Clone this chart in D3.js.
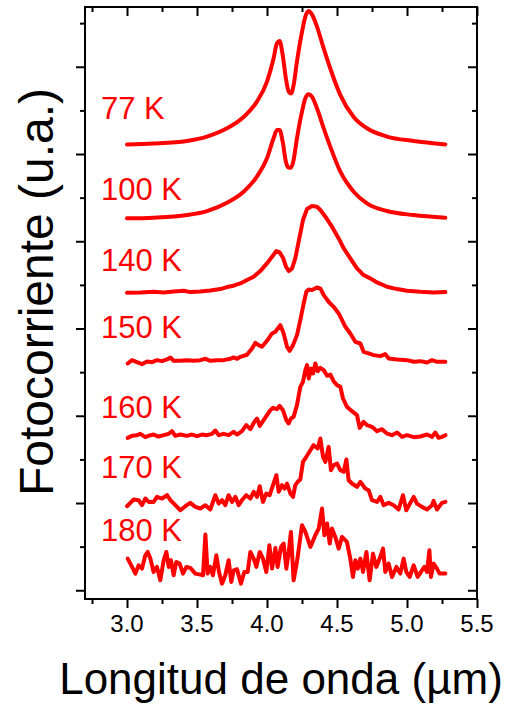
<!DOCTYPE html>
<html>
<head>
<meta charset="utf-8">
<script src="https://cdnjs.cloudflare.com/ajax/libs/d3/7.8.5/d3.min.js"></script>
<style>
  body { margin: 0; background: #fff; }
  svg { display: block; }
</style>
</head>
<body>
<div id="chart"></div>
<script>
// temperatures and vertical offset of each spectrum (in axis units)
const temps = ["77 K", "100 K", "140 K", "150 K", "160 K", "170 K", "180 K"];
const offsets = [10.22, 8.525, 6.82, 5.237, 3.532, 1.95, 0.42];

// 77 K and 100 K are read at the same wavelengths
const wlLow = [3.000, 3.190, 3.428, 3.571, 3.714, 3.833, 3.928, 4.000, 4.047, 4.071, 4.090, 4.112, 4.135, 4.155, 4.171, 4.190, 4.214, 4.250, 4.274, 4.297, 4.321, 4.357, 4.405, 4.452, 4.524, 4.619, 4.714, 4.857, 5.047, 5.274];
const pc77 = [0, 0.02, 0.08, 0.18, 0.37, 0.63, 0.98, 1.44, 1.97, 2.32, 2.37, 2.05, 1.51, 1.21, 1.17, 1.36, 1.90, 2.58, 2.93, 3.06, 2.98, 2.70, 2.20, 1.74, 1.13, 0.63, 0.37, 0.18, 0.08, 0];
const pc100 = [0, 0.015, 0.076, 0.168, 0.359, 0.612, 0.956, 1.376, 1.835, 2.026, 2.026, 1.758, 1.300, 1.162, 1.162, 1.338, 1.835, 2.446, 2.752, 2.844, 2.790, 2.523, 2.064, 1.644, 1.070, 0.612, 0.344, 0.168, 0.076, 0.015];

const wl140 = [3.000, 3.095, 3.190, 3.262, 3.333, 3.405, 3.452, 3.524, 3.595, 3.667, 3.714, 3.762, 3.786, 3.810, 3.857, 3.905, 3.952, 4.000, 4.036, 4.067, 4.090, 4.114, 4.136, 4.155, 4.179, 4.202, 4.226, 4.257, 4.286, 4.321, 4.357, 4.381, 4.417, 4.464, 4.512, 4.548, 4.595, 4.643, 4.690, 4.738, 4.786, 4.857, 4.929, 5.000, 5.095, 5.190, 5.274];
const pc140 = [0, 0.008, 0.023, 0.008, 0.031, 0.046, 0.015, 0.031, 0.054, 0.084, 0.130, 0.161, 0.191, 0.214, 0.291, 0.367, 0.497, 0.673, 0.826, 0.956, 0.925, 0.803, 0.596, 0.497, 0.558, 0.787, 1.170, 1.667, 1.919, 1.988, 1.972, 1.896, 1.743, 1.514, 1.246, 1.017, 0.787, 0.558, 0.405, 0.329, 0.237, 0.138, 0.084, 0.046, 0.023, 0.008, 0.015];

const wl150 = [3.005, 3.036, 3.071, 3.107, 3.143, 3.179, 3.214, 3.250, 3.286, 3.310, 3.333, 3.381, 3.429, 3.476, 3.524, 3.560, 3.595, 3.643, 3.690, 3.738, 3.762, 3.786, 3.810, 3.857, 3.893, 3.917, 3.940, 3.964, 4.000, 4.036, 4.060, 4.095, 4.119, 4.143, 4.162, 4.186, 4.214, 4.238, 4.262, 4.281, 4.298, 4.321, 4.357, 4.381, 4.405, 4.440, 4.476, 4.512, 4.536, 4.560, 4.595, 4.631, 4.667, 4.690, 4.726, 4.762, 4.810, 4.845, 4.869, 4.929, 5.000, 5.048, 5.095, 5.143, 5.179, 5.214, 5.274];
const pc150 = [-0.038, 0.038, -0.008, -0.054, 0.008, -0.008, 0.038, 0.015, 0.054, 0.099, 0.023, 0.023, 0.038, 0.023, 0.038, 0.069, 0.023, 0.038, 0.038, 0.069, 0.099, 0.069, 0.115, 0.161, 0.306, 0.436, 0.382, 0.344, 0.482, 0.650, 0.688, 0.841, 0.650, 0.344, 0.252, 0.382, 0.612, 0.956, 1.338, 1.606, 1.659, 1.644, 1.705, 1.682, 1.529, 1.376, 1.261, 1.109, 0.956, 0.803, 0.650, 0.459, 0.420, 0.229, 0.191, 0.153, 0.130, 0.176, 0.076, 0.054, 0.038, 0, 0.015, -0.015, 0.038, 0, 0];

const wl160 = [3.005, 3.036, 3.071, 3.095, 3.131, 3.167, 3.190, 3.226, 3.262, 3.298, 3.321, 3.345, 3.381, 3.429, 3.464, 3.500, 3.536, 3.571, 3.607, 3.631, 3.655, 3.690, 3.726, 3.762, 3.786, 3.821, 3.852, 3.881, 3.910, 3.929, 3.948, 3.976, 4.000, 4.024, 4.043, 4.071, 4.090, 4.114, 4.138, 4.155, 4.171, 4.190, 4.214, 4.238, 4.257, 4.274, 4.286, 4.298, 4.314, 4.329, 4.345, 4.362, 4.381, 4.405, 4.429, 4.452, 4.476, 4.500, 4.524, 4.543, 4.571, 4.607, 4.643, 4.662, 4.690, 4.714, 4.750, 4.786, 4.821, 4.857, 4.893, 4.929, 4.964, 5.000, 5.048, 5.095, 5.143, 5.179, 5.202, 5.226, 5.250, 5.274];
const pc160 = [-0.038, 0.008, 0.023, 0.054, -0.023, 0.023, 0.038, -0.008, 0.023, 0.054, 0.115, 0.008, 0.038, 0.008, 0.038, 0, 0.038, 0.023, 0.054, 0.130, 0.023, 0.054, 0.023, 0.099, 0.038, 0.115, 0.252, 0.161, 0.329, 0.405, 0.237, 0.367, 0.482, 0.596, 0.650, 0.619, 0.696, 0.596, 0.367, 0.291, 0.405, 0.443, 0.711, 1.131, 1.246, 1.514, 1.628, 1.323, 1.552, 1.437, 1.667, 1.491, 1.567, 1.514, 1.384, 1.414, 1.261, 1.170, 1.131, 0.864, 0.673, 0.573, 0.482, 0.191, 0.329, 0.252, 0.214, 0.115, 0.161, 0.061, 0.023, 0.084, -0.015, 0.023, -0.023, -0.008, 0.038, -0.015, 0.084, -0.038, -0.015, 0.023];

const wl170 = [3.000, 3.048, 3.083, 3.107, 3.131, 3.155, 3.190, 3.214, 3.250, 3.286, 3.310, 3.345, 3.381, 3.417, 3.452, 3.488, 3.524, 3.560, 3.595, 3.631, 3.655, 3.679, 3.702, 3.726, 3.750, 3.774, 3.798, 3.821, 3.852, 3.881, 3.905, 3.929, 3.948, 3.971, 3.995, 4.019, 4.043, 4.067, 4.083, 4.107, 4.126, 4.143, 4.167, 4.186, 4.202, 4.219, 4.238, 4.257, 4.281, 4.310, 4.333, 4.362, 4.381, 4.400, 4.417, 4.440, 4.457, 4.476, 4.500, 4.524, 4.548, 4.567, 4.583, 4.607, 4.643, 4.667, 4.702, 4.726, 4.750, 4.786, 4.810, 4.833, 4.869, 4.905, 4.940, 4.971, 4.995, 5.024, 5.048, 5.071, 5.107, 5.143, 5.179, 5.190, 5.214, 5.250, 5.274];
const pc170 = [-0.023, 0.130, 0.115, 0, 0.153, 0.076, 0.076, 0.191, 0.153, 0.229, 0.115, 0, -0.115, -0.023, 0.054, -0.038, -0.076, 0, -0.099, 0.229, 0.038, 0.115, 0, 0.229, 0.076, 0.191, 0, 0.115, 0.229, 0.153, 0.306, 0.191, 0.436, 0.076, 0.268, 0.229, 0.459, 0.688, 0.306, 0.459, 0.382, 0.497, 0.268, 0.191, 0.459, 0.535, 0.589, 0.994, 1.109, 1.261, 1.376, 1.300, 1.529, 1.109, 0.994, 1.338, 0.803, 0.917, 0.956, 0.803, 0.765, 1.047, 0.573, 0.497, 0.420, 0.535, 0.382, 0.344, 0.115, 0.076, 0.191, 0, 0.054, 0, -0.099, 0.229, -0.115, 0.054, 0.191, 0.038, -0.038, -0.099, 0, 0.099, -0.099, 0.054, 0.076];

const wl180 = [3.005, 3.036, 3.060, 3.083, 3.107, 3.131, 3.148, 3.167, 3.190, 3.214, 3.238, 3.262, 3.281, 3.298, 3.314, 3.333, 3.352, 3.376, 3.400, 3.424, 3.452, 3.488, 3.524, 3.543, 3.560, 3.576, 3.595, 3.614, 3.638, 3.657, 3.679, 3.702, 3.726, 3.745, 3.762, 3.786, 3.814, 3.838, 3.862, 3.881, 3.905, 3.924, 3.948, 3.971, 3.995, 4.017, 4.036, 4.060, 4.076, 4.100, 4.119, 4.138, 4.155, 4.171, 4.190, 4.214, 4.250, 4.274, 4.310, 4.345, 4.369, 4.393, 4.410, 4.429, 4.448, 4.464, 4.488, 4.512, 4.536, 4.571, 4.595, 4.614, 4.631, 4.648, 4.667, 4.686, 4.710, 4.733, 4.757, 4.781, 4.805, 4.829, 4.845, 4.869, 4.893, 4.924, 4.952, 4.976, 4.995, 5.019, 5.048, 5.076, 5.107, 5.124, 5.143, 5.160, 5.171, 5.190, 5.214, 5.233, 5.257, 5.274];
const pc180 = [0.306, 0.115, -0.038, 0.153, 0.076, 0.382, 0.459, 0.306, 0, 0.115, -0.191, 0.268, 0.459, 0.115, 0.268, -0.076, 0.229, 0.191, -0.038, 0.115, 0.092, -0.038, -0.061, -0.076, 0.856, -0.038, 0.115, -0.076, 0.382, 0, -0.268, -0.076, 0.268, -0.229, 0.038, 0.061, -0.268, 0, 0, 0.459, 0.306, 0.115, 0.459, 0.306, 0, 0.612, 0.076, 0.550, 0.115, 0.573, 0.650, 0.076, 0.459, 0.917, -0.191, 0.229, 1.070, 0.917, 0.573, 0.841, 0.994, 1.453, 0.841, 1.109, 0.650, 0.994, 0.803, 0.535, 0.803, 0.688, 0.306, -0.115, 0.268, 0.076, 0.306, 0, 0.459, -0.191, 0.420, 0.115, 0.306, 0.535, 0, 0.191, -0.115, 0.115, -0.038, 0.306, 0, -0.115, 0.153, -0.115, 0.038, 0.115, 0, 0.497, -0.115, 0.191, 0.076, -0.038, -0.038, -0.038];

const wavelengths = [wlLow, wlLow, wl140, wl150, wl160, wl170, wl180];
const signals = [pc77, pc100, pc140, pc150, pc160, pc170, pc180];

const xTicks = [3.0, 3.5, 4.0, 4.5, 5.0, 5.5];
const xMinor = [2.75, 3.25, 3.75, 4.25, 4.75, 5.25];

// layout
const W = 519, H = 704;
const box = { left: 85, right: 477, top: 7, bottom: 599 };
const labelDy = [-25, -18, -22, -24, -18, -27, -31];
const red = "#ff0000";
const font = "Arial, 'Liberation Sans', Helvetica, sans-serif";

const svg = d3.select("#chart").append("svg")
  .attr("width", W)
  .attr("height", H);

const x = d3.scaleLinear().domain([2.7, 5.5]).range([box.left, box.right]);
const y = d3.scaleLinear().domain([-0.2, 13.37]).range([box.bottom, box.top]);

const yMajor = d3.range(0, 14, 2);
const yMinor = d3.range(1, 14, 2);

// draws one set of ticks with no domain line
function ticks (axis, pos, transform, size) {
  const g = svg.append("g")
    .attr("transform", transform)
    .call(axis.tickValues(pos).tickSize(size).tickFormat(""));
  g.select(".domain").remove();
  g.selectAll("line").attr("stroke", "#000").attr("stroke-width", 2);
  return g;
}

// left: ticks outside, right: ticks inside (both point left)
ticks(d3.axisLeft(y), yMajor, `translate(${box.left},0)`, 9);
ticks(d3.axisLeft(y), yMinor, `translate(${box.left},0)`, 5);
ticks(d3.axisLeft(y), yMajor, `translate(${box.right},0)`, 9);
ticks(d3.axisLeft(y), yMinor, `translate(${box.right},0)`, 5);
// top inside, bottom outside (both point down)
ticks(d3.axisBottom(x), xTicks, `translate(0,${box.top})`, 9);
ticks(d3.axisBottom(x), xMinor, `translate(0,${box.top})`, 5);
ticks(d3.axisBottom(x), xTicks, `translate(0,${box.bottom})`, 9);
ticks(d3.axisBottom(x), xMinor, `translate(0,${box.bottom})`, 5);

// tick labels on the bottom
svg.append("g").selectAll("text")
  .data(xTicks)
  .enter().append("text")
  .attr("x", d => x(d))
  .attr("y", box.bottom + 33)
  .attr("text-anchor", "middle")
  .style("font-family", font)
  .style("font-size", "24px")
  .text(d => d3.format(".1f")(d));

// frame
svg.append("rect")
  .attr("x", box.left)
  .attr("y", box.top)
  .attr("width", box.right - box.left)
  .attr("height", box.bottom - box.top)
  .attr("fill", "none")
  .attr("stroke", "#000")
  .attr("stroke-width", 2);

// spectra: the two low temperature ones are smooth
const line = d3.line()
  .x(d => x(d[0]))
  .y(d => y(d[1]));
const smooth = d3.line()
  .x(d => x(d[0]))
  .y(d => y(d[1]))
  .curve(d3.curveMonotoneX);

signals.forEach((s, i) => {
  const pts = s.map((v, j) => [wavelengths[i][j], v + offsets[i]]);
  svg.append("path")
    .datum(pts)
    .attr("d", i < 2 ? smooth : line)
    .attr("fill", "none")
    .attr("stroke", red)
    .attr("stroke-width", 4)
    .attr("stroke-linejoin", "round")
    .attr("stroke-linecap", "round");
});

// temperature labels
svg.append("g").selectAll("text")
  .data(temps)
  .enter().append("text")
  .attr("x", 101)
  .attr("y", (d, i) => y(offsets[i]) + labelDy[i])
  .attr("fill", red)
  .style("font-family", font)
  .style("font-size", "31px")
  .text(d => d);

// axis titles
svg.append("text")
  .attr("x", (box.left + box.right) / 2)
  .attr("y", 694)
  .attr("text-anchor", "middle")
  .style("font-family", font)
  .style("font-size", "44px")
  .text("Longitud de onda (µm)");

svg.append("text")
  .attr("transform", "translate(53,292) rotate(-90)")
  .attr("text-anchor", "middle")
  .style("font-family", font)
  .style("font-size", "48px")
  .text("Fotocorriente (u.a.)");
</script>
</body>
</html>
